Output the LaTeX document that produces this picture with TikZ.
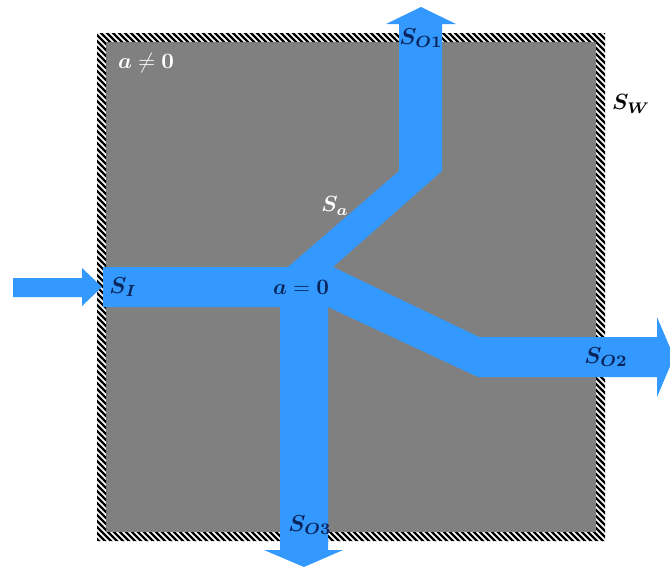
\documentclass[tikz,border=0pt]{standalone}
\usepackage{amsmath}
\usepackage{bm}
\definecolor{flowblue}{RGB}{51,153,255}
\definecolor{labelnavy}{RGB}{10,36,92}
\definecolor{regiongray}{RGB}{128,128,128}
\tikzset{
  lbl/.style={inner sep=0pt, font=\normalsize, scale=2.2},
  flowlbl/.style={lbl, text=labelnavy, scale=1.05},
  flow/.style={fill=flowblue, draw=none}}
\begin{document}
\begin{tikzpicture}[x=1pt,y=-1pt]
\useasboundingbox (0,0) rectangle (670,568);

% control region
\fill[regiongray] (106,42) rectangle (596,532);

% hatched wall around the region
\begin{scope}[even odd rule]
  \clip (97,33) rectangle (605,541) (106,42) rectangle (596,532);
  \foreach \i in {-560,-554,...,620}
    \draw[line width=2.2pt] (\i,20) -- ++(560,560);
\end{scope}

% incoming stream
\fill[flow] (13,278) -- (82,278) -- (82,268) -- (102,287) -- (82,306)
  -- (82,297) -- (13,297) -- cycle;

% main stream with its three outlets
\fill[flow] (103,267) -- (288,267) -- (399,171) -- (399,24) -- (386,24)
  -- (421,7) -- (456,24) -- (442,24) -- (442,171) -- (333,267)
  -- (479,337) -- (657,337) -- (657,317) -- (674,357) -- (657,397)
  -- (657,377) -- (478,377) -- (328,307) -- (328,550) -- (343,550)
  -- (304,567) -- (264,550) -- (280,550) -- (280,307) -- (103,307) -- cycle;

% labels
\node[lbl, text=white] (aneq) at (146,63) {$\bm{a}\neq\mathbf{0}$};
\node[lbl, text=labelnavy] (aeq) at (301,287) {$\bm{a}=\mathbf{0}$};
\node[lbl, text=white] (sa) at (335,206) {$\bm{S_a}$};
\node[lbl, text=black] (sw) at (631,104) {$\bm{S_W}$};
\node[flowlbl] (si) at (123,287) {$\bm{S_I}$};
\node[flowlbl] (so1) at (421,38) {$\bm{S_{O1}}$};
\node[flowlbl] (so2) at (606,357) {$\bm{S_{O2}}$};
\node[flowlbl] (so3) at (310,525) {$\bm{S_{O3}}$};
\end{tikzpicture}
\end{document}
